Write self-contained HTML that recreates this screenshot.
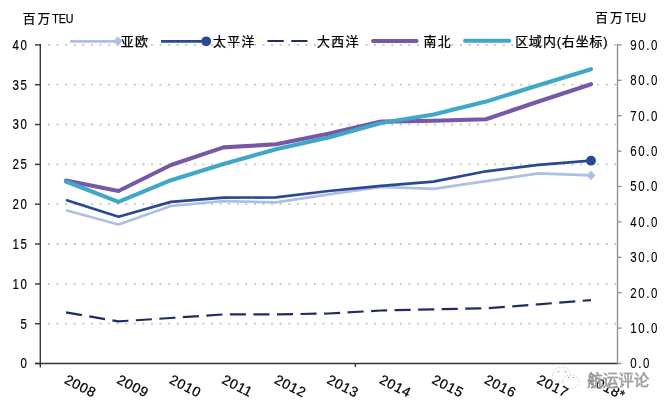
<!DOCTYPE html>
<html><head><meta charset="utf-8"><title>chart</title>
<style>
html,body{margin:0;padding:0;background:#fff;}
body{width:671px;height:408px;overflow:hidden;}
svg{display:block;}
</style></head>
<body>
<svg width="671" height="408" viewBox="0 0 671 408">
<rect width="671" height="408" fill="#fff"/>
<line x1="48" y1="323.7" x2="617" y2="323.7" stroke="#c4c4c4" stroke-width="1.8" stroke-dasharray="2 6.58"/>
<line x1="48" y1="283.9" x2="617" y2="283.9" stroke="#c4c4c4" stroke-width="1.8" stroke-dasharray="2 6.58"/>
<line x1="48" y1="244.0" x2="617" y2="244.0" stroke="#c4c4c4" stroke-width="1.8" stroke-dasharray="2 6.58"/>
<line x1="48" y1="204.2" x2="617" y2="204.2" stroke="#c4c4c4" stroke-width="1.8" stroke-dasharray="2 6.58"/>
<line x1="48" y1="164.4" x2="617" y2="164.4" stroke="#c4c4c4" stroke-width="1.8" stroke-dasharray="2 6.58"/>
<line x1="48" y1="124.5" x2="617" y2="124.5" stroke="#c4c4c4" stroke-width="1.8" stroke-dasharray="2 6.58"/>
<line x1="48" y1="84.7" x2="617" y2="84.7" stroke="#c4c4c4" stroke-width="1.8" stroke-dasharray="2 6.58"/>
<line x1="48" y1="44.9" x2="617" y2="44.9" stroke="#c4c4c4" stroke-width="1.8" stroke-dasharray="2 6.58"/>
<line x1="40.3" y1="44" x2="40.3" y2="367.5" stroke="#353535" stroke-width="1.4"/>
<line x1="35" y1="363.5" x2="618" y2="363.5" stroke="#353535" stroke-width="1.4"/>
<line x1="35" y1="363.5" x2="40" y2="363.5" stroke="#353535" stroke-width="1.4"/>
<line x1="35" y1="323.7" x2="40" y2="323.7" stroke="#353535" stroke-width="1.4"/>
<line x1="35" y1="283.9" x2="40" y2="283.9" stroke="#353535" stroke-width="1.4"/>
<line x1="35" y1="244.0" x2="40" y2="244.0" stroke="#353535" stroke-width="1.4"/>
<line x1="35" y1="204.2" x2="40" y2="204.2" stroke="#353535" stroke-width="1.4"/>
<line x1="35" y1="164.4" x2="40" y2="164.4" stroke="#353535" stroke-width="1.4"/>
<line x1="35" y1="124.5" x2="40" y2="124.5" stroke="#353535" stroke-width="1.4"/>
<line x1="35" y1="84.7" x2="40" y2="84.7" stroke="#353535" stroke-width="1.4"/>
<line x1="35" y1="44.9" x2="40" y2="44.9" stroke="#353535" stroke-width="1.4"/>
<line x1="355.4" y1="363.5" x2="355.4" y2="367" stroke="#353535" stroke-width="1.4"/>
<line x1="617.5" y1="44" x2="617.5" y2="364.1" stroke="#8c8c8c" stroke-width="1.3"/>
<line x1="617.5" y1="363.5" x2="621.5" y2="363.5" stroke="#8c8c8c" stroke-width="1.3"/>
<line x1="617.5" y1="328.1" x2="621.5" y2="328.1" stroke="#8c8c8c" stroke-width="1.3"/>
<line x1="617.5" y1="292.7" x2="621.5" y2="292.7" stroke="#8c8c8c" stroke-width="1.3"/>
<line x1="617.5" y1="257.3" x2="621.5" y2="257.3" stroke="#8c8c8c" stroke-width="1.3"/>
<line x1="617.5" y1="221.9" x2="621.5" y2="221.9" stroke="#8c8c8c" stroke-width="1.3"/>
<line x1="617.5" y1="186.5" x2="621.5" y2="186.5" stroke="#8c8c8c" stroke-width="1.3"/>
<line x1="617.5" y1="151.1" x2="621.5" y2="151.1" stroke="#8c8c8c" stroke-width="1.3"/>
<line x1="617.5" y1="115.7" x2="621.5" y2="115.7" stroke="#8c8c8c" stroke-width="1.3"/>
<line x1="617.5" y1="80.3" x2="621.5" y2="80.3" stroke="#8c8c8c" stroke-width="1.3"/>
<line x1="617.5" y1="44.9" x2="621.5" y2="44.9" stroke="#8c8c8c" stroke-width="1.3"/>
<polyline points="66.0,210.2 118.5,224.5 171.0,206.0 223.5,201.2 276.0,202.3 328.5,194.3 381.0,186.8 433.5,188.8 486.0,181.2 538.5,173.3 591.0,175.4" fill="none" stroke="#adbfe2" stroke-width="2.7" stroke-linejoin="round"/>
<polyline points="66.0,200.0 118.5,216.7 171.0,201.9 223.5,197.7 276.0,197.4 328.5,191.0 381.0,185.8 433.5,181.6 486.0,171.3 538.5,164.8 591.0,160.7" fill="none" stroke="#2a4893" stroke-width="2.7" stroke-linejoin="round"/>
<polyline points="66.0,312.4 118.5,321.4 171.0,318.0 223.5,314.4 276.0,314.4 328.5,313.5 381.0,310.5 433.5,309.3 486.0,308.3 538.5,304.3 591.0,300.1" fill="none" stroke="#1f2d62" stroke-width="2.2" stroke-dasharray="16.1 7.45" stroke-linecap="butt" stroke-linejoin="round"/>
<polyline points="66.0,180.5 118.5,191.0 171.0,165.0 223.5,147.4 276.0,144.3 328.5,133.8 381.0,121.6 433.5,120.7 486.0,119.2 538.5,101.5 591.0,84.2" fill="none" stroke="#7658a7" stroke-width="4.1" stroke-linejoin="round" stroke-linecap="round"/>
<polyline points="66.0,181.5 118.5,201.9 171.0,180.2 223.5,164.0 276.0,149.2 328.5,137.5 381.0,122.9 433.5,114.5 486.0,101.6 538.5,85.2 591.0,69.2" fill="none" stroke="#41a7c6" stroke-width="4.1" stroke-linejoin="round" stroke-linecap="round"/>
<circle cx="591.0" cy="160.7" r="4.9" fill="#2a4893"/>
<polygon points="586.3,175.4 591.0,170.7 595.7,175.4 591.0,180.1" fill="#adbfe2"/>
<line x1="70" y1="41.3" x2="117" y2="41.3" stroke="#adbfe2" stroke-width="2.7"/>
<polygon points="113.1,41.3 117.8,36.599999999999994 122.5,41.3 117.8,46.0" fill="#adbfe2"/>
<line x1="161" y1="41.3" x2="206" y2="41.3" stroke="#2a4893" stroke-width="2.7"/>
<circle cx="206.2" cy="41.3" r="4.9" fill="#2a4893"/>
<line x1="268.3" y1="41" x2="306.6" y2="41" stroke="#1f2d62" stroke-width="2.2" stroke-linecap="round" stroke-dasharray="14.6 9.2"/>
<line x1="373" y1="41" x2="416.6" y2="41" stroke="#7658a7" stroke-width="3.9" stroke-linecap="round"/>
<line x1="465" y1="40.8" x2="509.3" y2="40.8" stroke="#41a7c6" stroke-width="3.9" stroke-linecap="round"/>
<text x="120.8" y="46.4" font-size="12.9" font-family='"Liberation Sans", "Noto Sans CJK SC", "WenQuanYi Zen Hei", sans-serif' text-anchor="start" fill="#000" stroke="#000" stroke-width="0.25" letter-spacing="1.3">亚欧</text>
<text x="213" y="46.4" font-size="12.9" font-family='"Liberation Sans", "Noto Sans CJK SC", "WenQuanYi Zen Hei", sans-serif' text-anchor="start" fill="#000" stroke="#000" stroke-width="0.25" letter-spacing="1.3">太平洋</text>
<text x="317" y="46.4" font-size="12.9" font-family='"Liberation Sans", "Noto Sans CJK SC", "WenQuanYi Zen Hei", sans-serif' text-anchor="start" fill="#000" stroke="#000" stroke-width="0.25" letter-spacing="1.3">大西洋</text>
<text x="423.6" y="46.4" font-size="12.9" font-family='"Liberation Sans", "Noto Sans CJK SC", "WenQuanYi Zen Hei", sans-serif' text-anchor="start" fill="#000" stroke="#000" stroke-width="0.25" letter-spacing="1.3">南北</text>
<text x="515.3" y="46.4" font-size="12.9" font-family='"Liberation Sans", "Noto Sans CJK SC", "WenQuanYi Zen Hei", sans-serif' text-anchor="start" fill="#000" stroke="#000" stroke-width="0.25" letter-spacing="0.9">区域内(右坐标)</text>
<text x="22.8" y="22.7" font-size="12.6" font-family='"Liberation Sans", "Noto Sans CJK SC", "WenQuanYi Zen Hei", sans-serif' text-anchor="start" fill="#000" stroke="#000" stroke-width="0.25" letter-spacing="2.0">百万</text>
<text x="52.2" y="22.8" font-size="12.4" font-family='"Liberation Sans", Arial, sans-serif' text-anchor="start" fill="#000" stroke="#000" stroke-width="0.25" textLength="21.3" lengthAdjust="spacingAndGlyphs">TEU</text>
<text x="595.3" y="21.9" font-size="12.6" font-family='"Liberation Sans", "Noto Sans CJK SC", "WenQuanYi Zen Hei", sans-serif' text-anchor="start" fill="#000" stroke="#000" stroke-width="0.25" letter-spacing="2.0">百万</text>
<text x="624.6999999999999" y="22.0" font-size="12.4" font-family='"Liberation Sans", Arial, sans-serif' text-anchor="start" fill="#000" stroke="#000" stroke-width="0.25" textLength="21.3" lengthAdjust="spacingAndGlyphs">TEU</text>
<text x="0" y="0" font-size="14.4" font-family='"Liberation Sans", Arial, sans-serif' text-anchor="end" fill="#000" stroke="#000" stroke-width="0.2" letter-spacing="2.0" transform="translate(28.5,368.4) scale(0.8,1)">0</text>
<text x="0" y="0" font-size="14.4" font-family='"Liberation Sans", Arial, sans-serif' text-anchor="end" fill="#000" stroke="#000" stroke-width="0.2" letter-spacing="2.0" transform="translate(28.5,328.6) scale(0.8,1)">5</text>
<text x="0" y="0" font-size="14.4" font-family='"Liberation Sans", Arial, sans-serif' text-anchor="end" fill="#000" stroke="#000" stroke-width="0.2" letter-spacing="2.0" transform="translate(28.5,288.8) scale(0.8,1)">10</text>
<text x="0" y="0" font-size="14.4" font-family='"Liberation Sans", Arial, sans-serif' text-anchor="end" fill="#000" stroke="#000" stroke-width="0.2" letter-spacing="2.0" transform="translate(28.5,248.9) scale(0.8,1)">15</text>
<text x="0" y="0" font-size="14.4" font-family='"Liberation Sans", Arial, sans-serif' text-anchor="end" fill="#000" stroke="#000" stroke-width="0.2" letter-spacing="2.0" transform="translate(28.5,209.1) scale(0.8,1)">20</text>
<text x="0" y="0" font-size="14.4" font-family='"Liberation Sans", Arial, sans-serif' text-anchor="end" fill="#000" stroke="#000" stroke-width="0.2" letter-spacing="2.0" transform="translate(28.5,169.3) scale(0.8,1)">25</text>
<text x="0" y="0" font-size="14.4" font-family='"Liberation Sans", Arial, sans-serif' text-anchor="end" fill="#000" stroke="#000" stroke-width="0.2" letter-spacing="2.0" transform="translate(28.5,129.4) scale(0.8,1)">30</text>
<text x="0" y="0" font-size="14.4" font-family='"Liberation Sans", Arial, sans-serif' text-anchor="end" fill="#000" stroke="#000" stroke-width="0.2" letter-spacing="2.0" transform="translate(28.5,89.6) scale(0.8,1)">35</text>
<text x="0" y="0" font-size="14.4" font-family='"Liberation Sans", Arial, sans-serif' text-anchor="end" fill="#000" stroke="#000" stroke-width="0.2" letter-spacing="2.0" transform="translate(28.5,49.8) scale(0.8,1)">40</text>
<text x="0" y="0" font-size="14.4" font-family='"Liberation Sans", Arial, sans-serif' fill="#000" stroke="#000" stroke-width="0.1" letter-spacing="2.0" transform="translate(630.2,368.4) scale(0.8,1)">0.0</text>
<text x="0" y="0" font-size="14.4" font-family='"Liberation Sans", Arial, sans-serif' fill="#000" stroke="#000" stroke-width="0.1" letter-spacing="2.0" transform="translate(630.2,333.0) scale(0.8,1)">10.0</text>
<text x="0" y="0" font-size="14.4" font-family='"Liberation Sans", Arial, sans-serif' fill="#000" stroke="#000" stroke-width="0.1" letter-spacing="2.0" transform="translate(630.2,297.6) scale(0.8,1)">20.0</text>
<text x="0" y="0" font-size="14.4" font-family='"Liberation Sans", Arial, sans-serif' fill="#000" stroke="#000" stroke-width="0.1" letter-spacing="2.0" transform="translate(630.2,262.2) scale(0.8,1)">30.0</text>
<text x="0" y="0" font-size="14.4" font-family='"Liberation Sans", Arial, sans-serif' fill="#000" stroke="#000" stroke-width="0.1" letter-spacing="2.0" transform="translate(630.2,226.8) scale(0.8,1)">40.0</text>
<text x="0" y="0" font-size="14.4" font-family='"Liberation Sans", Arial, sans-serif' fill="#000" stroke="#000" stroke-width="0.1" letter-spacing="2.0" transform="translate(630.2,191.4) scale(0.8,1)">50.0</text>
<text x="0" y="0" font-size="14.4" font-family='"Liberation Sans", Arial, sans-serif' fill="#000" stroke="#000" stroke-width="0.1" letter-spacing="2.0" transform="translate(630.2,156.0) scale(0.8,1)">60.0</text>
<text x="0" y="0" font-size="14.4" font-family='"Liberation Sans", Arial, sans-serif' fill="#000" stroke="#000" stroke-width="0.1" letter-spacing="2.0" transform="translate(630.2,120.6) scale(0.8,1)">70.0</text>
<text x="0" y="0" font-size="14.4" font-family='"Liberation Sans", Arial, sans-serif' fill="#000" stroke="#000" stroke-width="0.1" letter-spacing="2.0" transform="translate(630.2,85.2) scale(0.8,1)">80.0</text>
<text x="0" y="0" font-size="14.4" font-family='"Liberation Sans", Arial, sans-serif' fill="#000" stroke="#000" stroke-width="0.1" letter-spacing="2.0" transform="translate(630.2,49.8) scale(0.8,1)">90.0</text>
<text x="0" y="0" font-size="13.8" font-family='"Liberation Sans", Arial, sans-serif' fill="#000" stroke="#000" stroke-width="0.25" letter-spacing="0.65" transform="translate(67.7,374.2) rotate(27) translate(0,9.5)">2008</text>
<text x="0" y="0" font-size="13.8" font-family='"Liberation Sans", Arial, sans-serif' fill="#000" stroke="#000" stroke-width="0.25" letter-spacing="0.65" transform="translate(120.2,374.2) rotate(27) translate(0,9.5)">2009</text>
<text x="0" y="0" font-size="13.8" font-family='"Liberation Sans", Arial, sans-serif' fill="#000" stroke="#000" stroke-width="0.25" letter-spacing="0.65" transform="translate(172.7,374.2) rotate(27) translate(0,9.5)">2010</text>
<text x="0" y="0" font-size="13.8" font-family='"Liberation Sans", Arial, sans-serif' fill="#000" stroke="#000" stroke-width="0.25" letter-spacing="0.65" transform="translate(225.2,374.2) rotate(27) translate(0,9.5)">2011</text>
<text x="0" y="0" font-size="13.8" font-family='"Liberation Sans", Arial, sans-serif' fill="#000" stroke="#000" stroke-width="0.25" letter-spacing="0.65" transform="translate(277.7,374.2) rotate(27) translate(0,9.5)">2012</text>
<text x="0" y="0" font-size="13.8" font-family='"Liberation Sans", Arial, sans-serif' fill="#000" stroke="#000" stroke-width="0.25" letter-spacing="0.65" transform="translate(330.2,374.2) rotate(27) translate(0,9.5)">2013</text>
<text x="0" y="0" font-size="13.8" font-family='"Liberation Sans", Arial, sans-serif' fill="#000" stroke="#000" stroke-width="0.25" letter-spacing="0.65" transform="translate(382.7,374.2) rotate(27) translate(0,9.5)">2014</text>
<text x="0" y="0" font-size="13.8" font-family='"Liberation Sans", Arial, sans-serif' fill="#000" stroke="#000" stroke-width="0.25" letter-spacing="0.65" transform="translate(435.2,374.2) rotate(27) translate(0,9.5)">2015</text>
<text x="0" y="0" font-size="13.8" font-family='"Liberation Sans", Arial, sans-serif' fill="#000" stroke="#000" stroke-width="0.25" letter-spacing="0.65" transform="translate(487.7,374.2) rotate(27) translate(0,9.5)">2016</text>
<text x="0" y="0" font-size="13.8" font-family='"Liberation Sans", Arial, sans-serif' fill="#000" stroke="#000" stroke-width="0.25" letter-spacing="0.65" transform="translate(540.2,374.2) rotate(27) translate(0,9.5)">2017</text>
<text x="0" y="0" font-size="13.8" font-family='"Liberation Sans", Arial, sans-serif' fill="#000" stroke="#000" stroke-width="0.25" letter-spacing="0.65" transform="translate(591.7,374.2) rotate(27) translate(0,9.5)">2018*</text>
<g><ellipse cx="561.5" cy="374.5" rx="9" ry="7.5" fill="none" stroke="#c4c4c4" stroke-width="0.9" stroke-dasharray="1.4 1.6"/><circle cx="558.5" cy="371.8" r="0.8" fill="#9a9a9a"/><circle cx="565.5" cy="371.8" r="0.8" fill="#9a9a9a"/><ellipse cx="571" cy="381.5" rx="7.8" ry="6.8" fill="#fff" fill-opacity="0.6" stroke="#bdbdbd" stroke-width="0.9" stroke-dasharray="1.4 1.6"/><circle cx="568.5" cy="377.5" r="0.7" fill="#9a9a9a"/><circle cx="574" cy="377.5" r="0.7" fill="#9a9a9a"/></g>
<text x="587.3" y="385.6" font-size="15.5" font-family='"Liberation Sans", "Noto Sans CJK SC", "WenQuanYi Zen Hei", sans-serif' fill="#fff" stroke="#fff" stroke-width="1.6" stroke-linejoin="round" opacity="0.7">航运评论</text>
<text x="587.3" y="385.6" font-size="15.5" font-family='"Liberation Sans", "Noto Sans CJK SC", "WenQuanYi Zen Hei", sans-serif' fill="#b8b8b8" stroke="#6a6a6a" stroke-width="0.35">航运评论</text>
</svg>
</body></html>
